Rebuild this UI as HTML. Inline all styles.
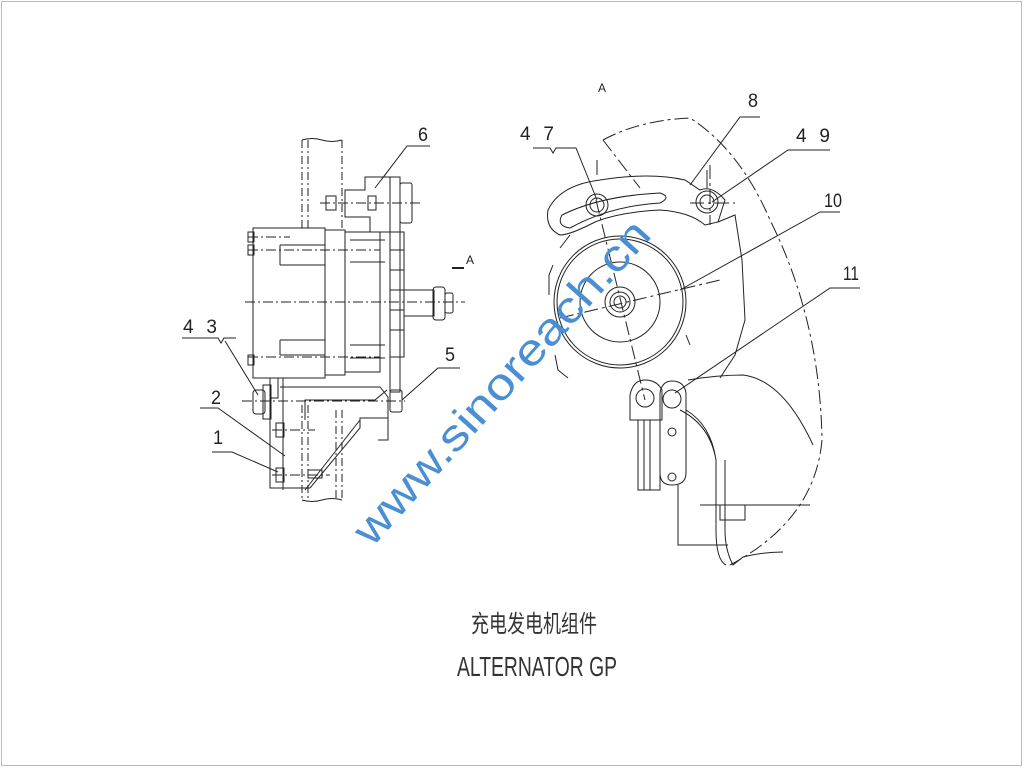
<!DOCTYPE html>
<html><head><meta charset="utf-8"><style>
html,body{margin:0;padding:0;background:#fff;width:1024px;height:768px;overflow:hidden}
svg{display:block}
text{font-family:"Liberation Sans","Noto Sans CJK SC",sans-serif;fill:#222}
</style></head><body>
<svg width="1024" height="768" viewBox="0 0 1024 768" xmlns="http://www.w3.org/2000/svg">
<rect x="1.5" y="1.5" width="1020" height="764" fill="none" stroke="#bbb" stroke-width="1"/>
<g fill="none" stroke="#222" stroke-width="1">
<g stroke-dasharray="8,3,2,3">
<line x1="302" y1="140" x2="302" y2="228"/><line x1="308" y1="140" x2="308" y2="228"/>
<line x1="342" y1="140" x2="342" y2="230"/>
<line x1="302" y1="405" x2="302" y2="500"/><line x1="308" y1="405" x2="308" y2="500"/>
<line x1="342" y1="410" x2="342" y2="500"/><line x1="336" y1="410" x2="336" y2="500"/>
</g>
<path d="M302 140 q10 -3 20 0 t20 0"/>
<path d="M302 500 q10 3 20 0 t20 0"/>
<rect x="253" y="228" width="72" height="150"/>
<rect x="325" y="230" width="20" height="145"/>
<rect x="345" y="232" width="35" height="140"/>
<path d="M280 245 h45 M280 265 h45 M280 340 h45 M280 355 h45 M280 245 v20 M280 340 v15"/>
<path d="M350 240 h35 M350 262 h35 M350 345 h35 M350 358 h35"/>
<rect x="248" y="232" width="6" height="10"/><rect x="248" y="245" width="6" height="10"/><rect x="248" y="355" width="6" height="10"/>
<path d="M345 190 h20 v-13 h25 v55 h-20 v-15 h-25z"/>
<rect x="326" y="196" width="10" height="14"/><rect x="368" y="196" width="8" height="14"/>
<rect x="390" y="177" width="10" height="215"/>
<rect x="400" y="183" width="12" height="40" rx="2"/>
<rect x="390" y="232" width="14" height="125"/>
<path d="M390 250 h14 M390 270 h14 M390 290 h14 M390 310 h14 M390 330 h14"/>
<rect x="404" y="290" width="30" height="26"/>
<rect x="433" y="287" width="12" height="33" rx="3"/><rect x="445" y="293" width="8" height="20" rx="2"/>
<path d="M270 378 v20 h8 v-20 M270 398 v90 h40 l50 -60 v-10 h28 v22 h-10"/>
<path d="M283 378 v112 M280 387 h100 l8 10 v25 M305 420 v-20 h70 l12 -10"/>
<rect x="253" y="390" width="12" height="24" rx="3"/><rect x="263" y="385" width="8" height="34"/>
<rect x="390" y="390" width="12" height="22" rx="2"/>
<rect x="276" y="423" width="8" height="14"/><rect x="276" y="468" width="8" height="14"/>
<rect x="308" y="470" width="14" height="8"/>
<line x1="305" y1="490" x2="360" y2="420"/>
<g stroke-dasharray="10,3,2,3">
<line x1="245" y1="302" x2="465" y2="302"/>
<line x1="320" y1="203" x2="422" y2="203"/>
<line x1="248" y1="237" x2="290" y2="237"/><line x1="248" y1="250" x2="380" y2="250"/><line x1="248" y1="357" x2="380" y2="357"/>
<line x1="242" y1="401" x2="405" y2="401"/>
<line x1="272" y1="430" x2="315" y2="430"/><line x1="272" y1="475" x2="330" y2="475"/>
</g>
<path d="M375 188 L407 146 H430"/>
<path d="M258 395 L225 341 M182 338 H218 l3 5 3 -5 h12"/>
<path d="M402 400 L438 368 H460"/>
<path d="M285 456 L218 408 H200"/>
<path d="M278 472 L232 452 H212"/>
<path d="M452 268 h12" stroke-width="2"/>
<g stroke-dasharray="14,4,3,4">
<path d="M603 140 Q640 120 690 118 Q740 150 770 220 Q820 320 822 440 Q815 520 730 565"/>
<path d="M603 140 L640 188"/>
<line x1="596" y1="200" x2="645" y2="400"/>
<line x1="710" y1="165" x2="710" y2="225"/><line x1="690" y1="203" x2="735" y2="203"/>
<line x1="560" y1="318" x2="720" y2="280"/>
</g>
<circle cx="620" cy="302" r="66"/><circle cx="620" cy="302" r="63"/><circle cx="620" cy="302" r="40"/>
<circle cx="620" cy="302" r="15"/><circle cx="620" cy="302" r="10"/><circle cx="620" cy="302" r="6"/>
<path d="M553 265 l-4 10 v20 M555 355 l3 15 10 8 M686 335 l4 10"/>
<path d="M548 210 Q560 185 600 180 Q650 172 685 180 L700 190 Q712 185 725 200 L718 222 L705 225 Q690 212 660 210 Q620 212 595 222 Q570 235 560 235 Q545 228 548 210z"/>
<path d="M562 215 Q600 196 660 193 Q672 197 660 203 Q610 206 570 228 Q556 226 562 215z"/>
<circle cx="597" cy="205" r="11"/><circle cx="597" cy="205" r="7"/>
<circle cx="707" cy="202" r="11"/><circle cx="707" cy="202" r="7"/>
<path d="M718 222 L735 215 L742 260 L745 320 L735 355 L720 378"/>
<path d="M570 235 L560 248"/>
<path d="M630 395 v25 h32 v-30 q-5 -10 -17 -10 q-12 0 -15 15z"/><circle cx="645" cy="398" r="9"/>
<path d="M660 393 q2 -12 12 -12 q12 0 14 12 v80 q0 12 -14 12 q-12 0 -12 -12z"/><circle cx="672" cy="399" r="9"/>
<circle cx="672" cy="432" r="4"/><circle cx="672" cy="477" r="4"/>
<path d="M638 420 v70 h22 v-70 M644 420 v70 M650 420 v70"/>
<path d="M686 410 q25 15 30 50 v70 q0 30 10 35 M680 410 q30 15 36 50"/>
<path d="M725 460 v70 q0 20 8 35 l10 -8 q20 -5 40 -5"/>
<path d="M688 380 q30 -5 55 -5 q40 5 70 70"/>
<path d="M678 485 v60 h50 M700 505 h110 M720 505 v15 h25 v-15"/>
<path d="M533 148 H550 l3 5 3 -5 h20 L597 200"/>
<path d="M690 185 L740 117 H760"/>
<path d="M712 202 L788 150 H830"/>
<path d="M680 290 L820 212 H840"/>
<path d="M675 393 L830 288 H860"/>
<path d="M597 175 v-15 M707 188 v-18"/>
</g>
<g font-size="19">
<text x="598" y="92" font-size="12">A</text>
<text x="748" y="107" textLength="10" lengthAdjust="spacingAndGlyphs">8</text>
<text x="796" y="142" textLength="34">4 9</text>
<text x="520" y="140" textLength="34">4 7</text>
<text x="824" y="207" textLength="18" lengthAdjust="spacingAndGlyphs">10</text>
<text x="843" y="280" textLength="16" lengthAdjust="spacingAndGlyphs">11</text>
<text x="418" y="141" textLength="10" lengthAdjust="spacingAndGlyphs">6</text>
<text x="466" y="264" font-size="12">A</text>
<text x="183" y="333" textLength="34">4 3</text>
<text x="445" y="361" textLength="10" lengthAdjust="spacingAndGlyphs">5</text>
<text x="211" y="404" textLength="10" lengthAdjust="spacingAndGlyphs">2</text>
<text x="213" y="444" textLength="10" lengthAdjust="spacingAndGlyphs">1</text>
</g>
<text x="471" y="632" font-size="24" textLength="126" lengthAdjust="spacingAndGlyphs" style="fill:#333">充电发电机组件</text>
<text x="457" y="676" font-size="28" textLength="160" lengthAdjust="spacingAndGlyphs" style="fill:#333">ALTERNATOR GP</text>
<text x="0" y="0" font-size="44" style="fill:#4a8fd4" transform="translate(372,548) rotate(-48)" textLength="420" lengthAdjust="spacingAndGlyphs">www.sinoreach.cn</text>
</svg>
</body></html>
